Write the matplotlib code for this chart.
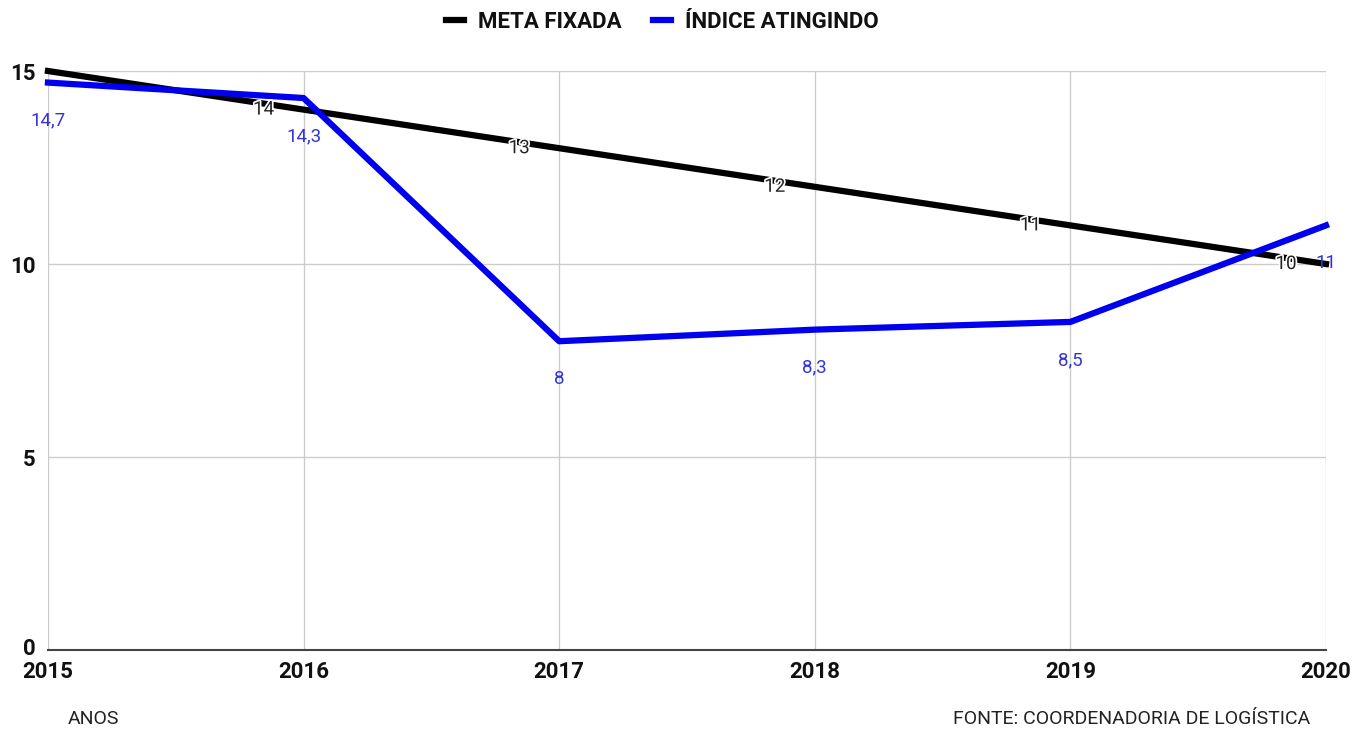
import numpy as np
import matplotlib
matplotlib.use('Agg')
from matplotlib import pyplot as plt
import matplotlib.patheffects as pe
import matplotlib.transforms as mtrans

plt.rcParams['font.family'] = ['Roboto', 'DejaVu Sans']

anos = [2015, 2016, 2017, 2018, 2019, 2020]
meta_fixada = [15, 14, 13, 12, 11, 10]
indice_atingido = [14.7, 14.3, 8, 8.3, 8.5, 11]
y_ticks = [0, 5, 10, 15]

BLUE = '#0000ee'

fig = plt.figure(figsize=(13.55, 7.32), dpi=100)
ax = fig.add_axes([0.0354, 0.112, 0.9432, 0.791])

ax.plot(anos, meta_fixada, color='black', lw=4.5, label='META FIXADA', clip_on=False, zorder=3)
ax.plot(anos, indice_atingido, color=BLUE, lw=4.5, label='ÍNDICE ATINGINDO', clip_on=False, zorder=4)

# data labels (first black one is hidden in the reference)
for i, (x, v) in enumerate(zip(anos, meta_fixada)):
  if i == 0:
    continue
  ax.annotate(f'{v}', (x, v), xytext=(-40, 0), textcoords='offset pixels',
              ha='center', va='center', fontsize=13.5, color='#222222', zorder=6,
              path_effects=[pe.withStroke(linewidth=2.5, foreground='white')])
for x, v in zip(anos, indice_atingido):
  txt = f'{v:g}'.replace('.', ',')
  ax.annotate(txt, (x, v), xytext=(0, -38), textcoords='offset pixels',
              ha='center', va='center', fontsize=13.5, color='#3333dd', zorder=6)

ax.set_xlim(2015, 2020)
ax.set_ylim(0, 15)
ax.set_xticks(anos)
ax.set_yticks(y_ticks)
ax.grid(True, color='#cccccc', lw=1)
ax.set_axisbelow(True)
for s in ['top', 'right', 'left']:
  ax.spines[s].set_visible(False)
ax.spines['bottom'].set_color('#444444')
ax.spines['bottom'].set_linewidth(1.5)
ax.spines['bottom'].set_zorder(2)
ax.tick_params(length=0)
ax.tick_params(axis='x', pad=8)
ax.tick_params(axis='y', pad=9)
for lab in ax.get_xticklabels() + ax.get_yticklabels():
  lab.set_fontweight('bold')
  lab.set_fontsize(16)
  lab.set_color('#111111')

# nudge the "0" up a little so it clears "2015"
zero_lab = ax.get_yticklabels()[0]
zero_lab.set_transform(zero_lab.get_transform() + mtrans.ScaledTranslation(0, 4 / 100, fig.dpi_scale_trans))

leg = fig.legend(loc='upper center', bbox_to_anchor=(0.4886, 1.012), ncol=2, frameon=False,
                 fontsize=16, handlelength=0.85, handletextpad=0.6, columnspacing=1.4)
for t in leg.get_texts():
  t.set_fontweight('bold')
  t.set_color('#111111')

fig.text(0.05, 0.006, 'ANOS', fontsize=14, color='#222222', ha='left', va='bottom')
fig.text(0.967, 0.006, 'FONTE: COORDENADORIA DE LOGÍSTICA', fontsize=14, color='#222222', ha='right', va='bottom')

fig.savefig('out.png', dpi=100)
